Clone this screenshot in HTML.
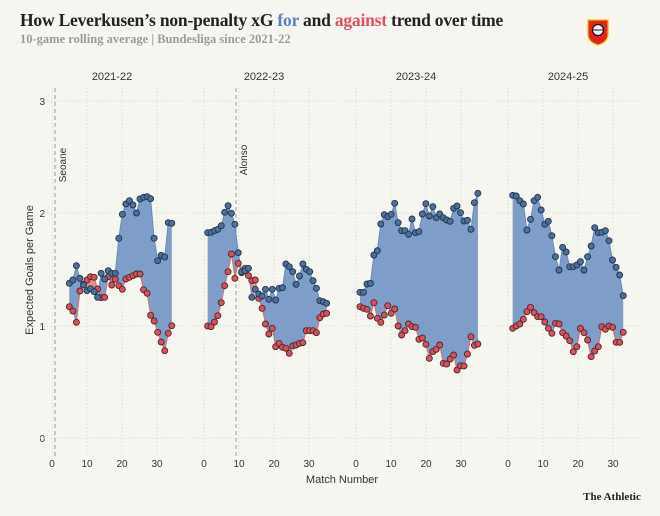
<!DOCTYPE html>
<html><head><meta charset="utf-8">
<style>
html,body{margin:0;padding:0;background:#f6f6f1;}
body{width:660px;height:516px;overflow:hidden;position:relative;font-family:"Liberation Sans",sans-serif;}
.t{position:absolute;left:20px;top:10px;font-family:"Liberation Serif",serif;font-weight:bold;font-size:17.5px;color:#222;letter-spacing:-0.2px}
.s{position:absolute;left:20px;top:32px;font-family:"Liberation Serif",serif;font-weight:bold;font-size:12.5px;color:#9a9a9a}
</style></head><body>
<div class="t">How Leverkusen’s non-penalty xG <span style="color:#5b83b5">for</span> and <span style="color:#e0505a">against</span> trend over time</div>
<div class="s">10-game rolling average | Bundesliga since 2021-22</div>
<svg id="c" width="660" height="516" style="position:absolute;left:0;top:0" xmlns="http://www.w3.org/2000/svg">
<g font-family="Liberation Sans, sans-serif" font-size="11" fill="#333" text-anchor="middle">
<text x="112" y="80">2021-22</text><text x="264" y="80">2022-23</text><text x="416" y="80">2023-24</text><text x="568" y="80">2024-25</text>
<g text-anchor="end" font-size="10"><text x="45" y="105">3</text><text x="45" y="217">2</text><text x="45" y="330">1</text><text x="45" y="442">0</text></g>
<g font-size="10" id="xt"></g>
<text x="342" y="483" font-size="11">Match Number</text>
<text transform="translate(33,270) rotate(-90)" font-size="11">Expected Goals per Game</text>
<text transform="translate(66,165) rotate(-90)" font-size="10">Seoane</text>
<text transform="translate(247,160) rotate(-90)" font-size="10">Alonso</text>
<text x="612" y="500" font-family="Liberation Serif, serif" font-weight="bold" font-size="11" fill="#222">The Athletic</text>
</g>
<g transform="translate(598,30)">
<path d="M-10,-10 L10,-10 L10,4 Q10,12 0,15 Q-10,12 -10,4Z" fill="#e32221" stroke="#e6c200" stroke-width="1.2"/>
<circle r="5.5" fill="#fff" stroke="#111" stroke-width="1.2"/>
<line x1="-5" y1="0" x2="5" y2="0" stroke="#111"/>
</g>
<g id="grid"></g>
<g id="data"></g>
</svg>
<script>
var NS="http://www.w3.org/2000/svg";
function el(p,t,a){var e=document.createElementNS(NS,t);for(var k in a)e.setAttribute(k,a[k]);p.appendChild(e);return e;}
var svg=document.getElementById('c'),grid=document.getElementById('grid'),data=document.getElementById('data'),xt=document.getElementById('xt');
var ys=[101,213,326,438];
for(var p=0;p<4;p++){var o=p*152;
 ys.forEach(function(y){el(grid,'line',{x1:40+o,x2:182+o,y1:y,y2:y,stroke:'#dcdcd6','stroke-dasharray':'1.5,2','stroke-width':1});});
 for(var t=0;t<4;t++){var x=52+o+35*t;el(grid,'line',{x1:x,x2:x,y1:88,y2:455,stroke:'#dcdcd6','stroke-dasharray':'1.5,2'});
  var tx=el(xt,'text',{x:x,y:467});tx.textContent=String(t*10);}
}
[55,236].forEach(function(x){el(grid,'line',{x1:x,x2:x,y1:88,y2:458,stroke:'#999','stroke-dasharray':'4,3','stroke-width':1});});
function mk(ox,oy,x0,step,B,R){var b=[],r=[];for(var i=0;i<B.length;i++){var x=ox+(x0+step*i)/3;b.push([x,oy+B[i]/3]);r.push([x,oy+R[i]/3]);}return [b,r];}
var S=[
 mk(0,180,208,10.6,[310,300,257,295,315,332,326,335,352,280,297,272,280,280,175,103,72,62,75,99,57,52,50,56,175,242,226,231,128,130],
 [380,393,427,333,313,300,290,292,327,353,352,290,315,298,317,328,297,292,287,282,282,329,340,406,423,457,486,512,460,437]),
 mk(195,190,38,10.2,[128,127,122,118,107,67,47,70,103,188,245,242,235,322,298,312,318,298,328,298,330,295,293,222,230,245,283,258,222,238,245,272,295,332,335,340],
 [408,410,396,377,338,287,245,192,265,220,248,235,257,272,270,325,355,402,432,415,470,460,472,475,490,468,465,460,458,422,422,422,428,383,372,370]),
 mk(350,180,30,10.4,[337,337,312,310,225,212,132,104,110,103,70,128,152,152,163,117,158,155,102,71,108,80,113,102,113,120,124,85,78,98,123,121,148,68,40],
 [380,385,388,408,368,415,427,405,377,400,387,438,465,452,432,440,442,478,474,493,535,515,508,495,550,552,537,525,570,557,558,522,470,496,492]),
 mk(500,180,38,10.7,[46,48,62,72,150,118,62,52,90,133,124,167,230,270,202,216,260,260,255,245,270,230,198,143,158,157,152,182,240,262,285,347],
 [445,438,432,418,395,382,398,410,410,426,445,460,430,432,458,468,482,515,500,445,458,480,530,513,500,440,448,438,442,487,487,457])
];
function pts(a){return a.map(function(p){return p[0].toFixed(1)+','+p[1].toFixed(1);}).join(' ');}
S.forEach(function(s,i){var b=s[0],r=s[1];
 var poly=pts(b)+' '+pts(r.slice().reverse());
 el(data,'polygon',{points:poly,fill:'#e98f8f'});
 var cp=el(svg,'clipPath',{id:'cp'+i});
 el(cp,'polygon',{points:pts(b)+' '+b[b.length-1][0]+',520 '+b[0][0]+',520'});
 el(data,'polygon',{points:poly,fill:'#7e9dc8','clip-path':'url(#cp'+i+')'});
 el(data,'polyline',{points:pts(r),fill:'none',stroke:'#e06a6a','stroke-width':1});
 el(data,'polyline',{points:pts(b),fill:'none',stroke:'#6a8bb8','stroke-width':1});
 r.forEach(function(p){el(data,'circle',{cx:p[0],cy:p[1],r:3,fill:'#d9505a',stroke:'#4a2a2a','stroke-width':0.9});});
 b.forEach(function(p){el(data,'circle',{cx:p[0],cy:p[1],r:3,fill:'#4d6f98',stroke:'#1f3550','stroke-width':0.9});});
});
</script>
</body></html>
